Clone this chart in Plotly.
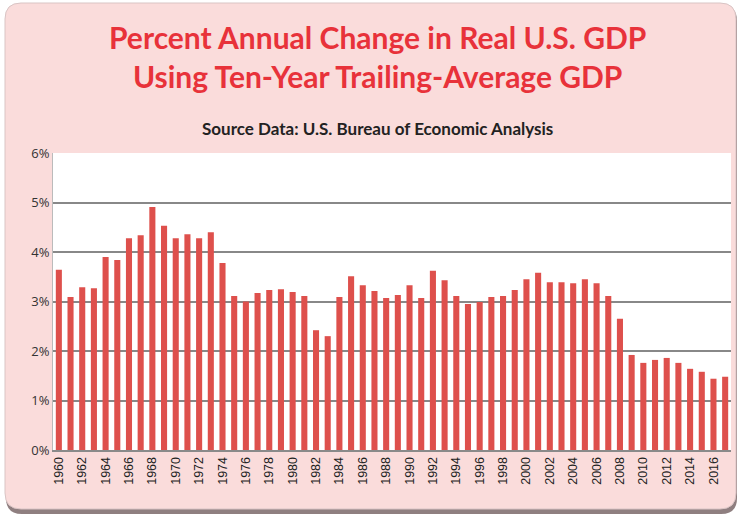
import plotly.graph_objects as go

years = [str(y) for y in range(1960, 2018)]
values = [3.64, 3.09, 3.29, 3.27, 3.90, 3.84, 4.28, 4.34, 4.91, 4.53,
          4.28, 4.36, 4.28, 4.40, 3.78, 3.11, 3.00, 3.17, 3.23, 3.25,
          3.19, 3.11, 2.42, 2.30, 3.09, 3.51, 3.33, 3.21, 3.07, 3.13,
          3.33, 3.07, 3.62, 3.43, 3.11, 2.95, 2.99, 3.09, 3.11, 3.23,
          3.45, 3.58, 3.39, 3.39, 3.37, 3.45, 3.37, 3.11, 2.65, 1.92,
          1.76, 1.82, 1.86, 1.76, 1.64, 1.58, 1.44, 1.48]
tick_years = [str(y) for y in range(1960, 2018, 2)]
y_ticks = [0, 1, 2, 3, 4, 5, 6]
y_labels = ["0%", "1%", "2%", "3%", "4%", "5%", "6%"]

W, H = 737, 514
L, R, T, B = 53, 6, 153, 64
pw, ph = W - L - R, H - T - B

def px(x):
    return (x - L) / pw

def py(y):
    return (H - B - y) / ph

def rounded(x0, y0, x1, y1, r):
    rx, ry = r / pw, r / ph
    X0, X1 = px(x0), px(x1)
    Y0, Y1 = py(y0), py(y1)  # Y0 top (higher), Y1 bottom
    return (f"M {X0+rx},{Y0} L {X1-rx},{Y0} Q {X1},{Y0} {X1},{Y0-ry} "
            f"L {X1},{Y1+ry} Q {X1},{Y1} {X1-rx},{Y1} L {X0+rx},{Y1} "
            f"Q {X0},{Y1} {X0},{Y1+ry} L {X0},{Y0-ry} Q {X0},{Y0} {X0+rx},{Y0} Z")

fig = go.Figure(go.Bar(x=years, y=values, marker_color="#DE504C",
                       marker_line_width=0))

shapes = [
    dict(type="path", xref="paper", yref="paper", path=rounded(6, 5, 737, 514, 16),
         fillcolor="#8f7f80", line_width=0, layer="below"),
    dict(type="path", xref="paper", yref="paper", path=rounded(5, 3, 736, 509, 16),
         fillcolor="#FADCDB", line=dict(color="#d9c4c4", width=1), layer="below"),
    dict(type="rect", xref="paper", yref="paper", x0=0, x1=1, y0=0, y1=1,
         fillcolor="white", line_width=0, layer="below"),
]

fig.update_layout(
    width=W, height=H,
    margin=dict(l=L, r=R, t=T, b=B, autoexpand=False),
    paper_bgcolor="white",
    plot_bgcolor="rgba(0,0,0,0)",
    bargap=0.48,
    showlegend=False,
    shapes=shapes,
    font=dict(family="Liberation Sans, Arial", color="#333"),
    xaxis=dict(type="category", tickmode="array", tickvals=tick_years,
               ticktext=tick_years, tickangle=-90, showgrid=False,
               showline=True, linecolor="#8a8a8a", linewidth=2,
               ticks="", tickfont=dict(size=12.5, color="#222")),
    yaxis=dict(range=[0, 6], tickvals=y_ticks, ticktext=y_labels,
               showgrid=True, gridcolor="#888888", gridwidth=2,
               showline=True, linecolor="#bbbbbb", linewidth=1,
               zeroline=False, ticks="", ticklen=0,
               tickfont=dict(size=13, color="#333", family="Open Sans")),
    annotations=[
        dict(text="Percent Annual Change in Real U.S. GDP<br>Using Ten-Year Trailing-Average GDP",
             xref="paper", yref="paper", x=px(377), y=py(57), xanchor="center", yanchor="middle",
             showarrow=False, align="center",
             font=dict(family="Lato", size=30, color="#E8323A", weight="bold")),
        dict(text="<b>Source Data: U.S. Bureau of Economic Analysis</b>",
             xref="paper", yref="paper", x=px(377), y=py(128), xanchor="center", yanchor="middle",
             showarrow=False, font=dict(family="Lato", size=17, color="#222")),
    ],
)

fig.write_html("out.html", config={"displayModeBar": False},
               post_script="document.body.style.margin='0';document.body.style.overflow='hidden';")
